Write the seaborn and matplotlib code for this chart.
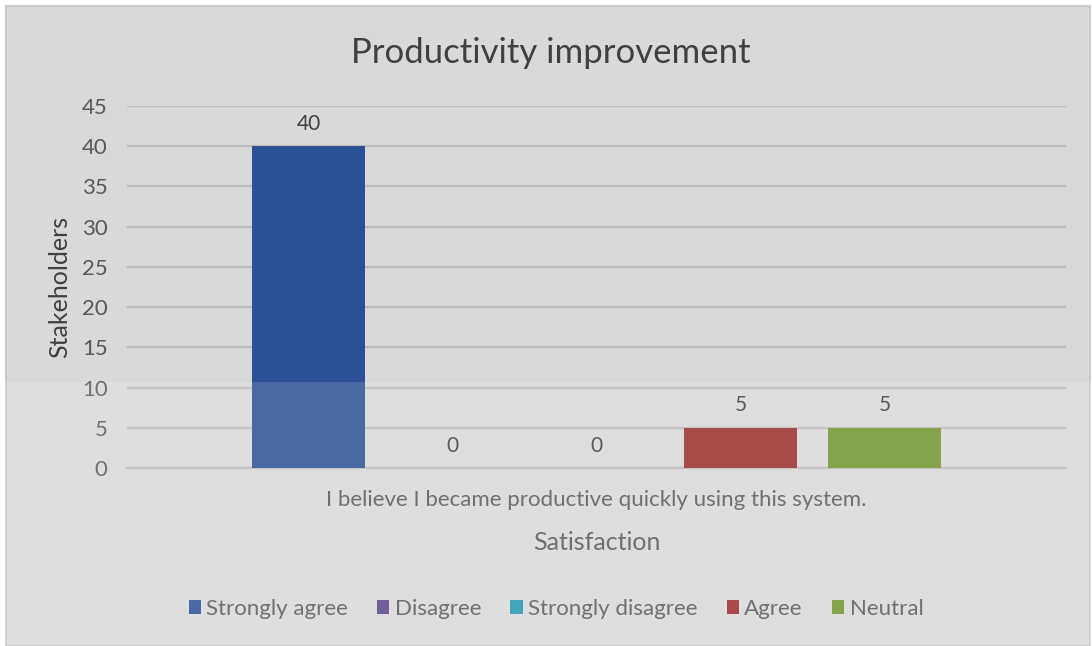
import matplotlib
matplotlib.use("Agg")
import matplotlib.pyplot as plt
import matplotlib.patches as mpatches
import seaborn as sns
import pandas as pd

# Survey responses for one statement
question = "I believe I became productive quickly using this system."
responses = ["Strongly agree", "Disagree", "Strongly disagree", "Agree", "Neutral"]
counts = [40, 0, 0, 5, 5]
colors = ["#2a5196", "#5a4589", "#2596b2", "#9c2e2a", "#72942d"]
yticks = [0, 5, 10, 15, 20, 25, 30, 35, 40, 45]

df = pd.DataFrame({"Question": [question] * len(responses),
                   "Response": responses,
                   "Count": counts})

sns.set_theme(style="white")
plt.rcParams["font.family"] = ["Lato", "DejaVu Sans"]
text_color = "#595959"
dark_text = "#404040"
grid_color = "#bcbcbc"
bg = "#d9d9d9"

W, H = 1092, 646
fig = plt.figure(figsize=(W / 100, H / 100), dpi=100, facecolor="white")

# Chart panel with a thin frame
panel = mpatches.Rectangle((6 / W, 0), (1084 / W), (640 / H), transform=fig.transFigure,
                           facecolor=bg, edgecolor="#c4c4c4", linewidth=1.2, zorder=-10)
fig.patches.append(panel)

ax = fig.add_axes([127 / W, (H - 468) / H, 939 / W, 362 / H])
ax.set_facecolor("none")

sns.barplot(data=df, x="Question", y="Count", hue="Response", hue_order=responses,
            palette=colors, width=0.767, gap=0.21, saturation=1, ax=ax,
            legend=True, zorder=3, linewidth=0, edgecolor="none")

ax.set_ylim(0, 45)
ax.set_xlim(-0.5, 0.5)
ax.set_yticks(yticks)
ax.yaxis.grid(True, color=grid_color, linewidth=1.6, zorder=0)
ax.set_axisbelow(True)
for s in ["top", "right", "left"]:
    ax.spines[s].set_visible(False)
ax.spines["bottom"].set_color(grid_color)
ax.spines["bottom"].set_linewidth(1.6)
ax.tick_params(axis="both", length=0, colors=text_color)
ax.tick_params(axis="y", pad=14, labelsize=16)
ax.tick_params(axis="x", pad=16, labelsize=16)

for cont in ax.containers:
    ax.bar_label(cont, labels=[f"{v:.0f}" for v in cont.datavalues],
                 padding=9, fontsize=15, color=dark_text)

fig.text(551 / W, 1 - 53 / H, "Productivity improvement", fontsize=25,
         color=dark_text, ha="center", va="center")
ax.set_ylabel("Stakeholders", fontsize=18, color=dark_text, labelpad=8)
ax.set_xlabel("Satisfaction", fontsize=18, color=text_color, labelpad=15)

handles, labels = ax.get_legend_handles_labels()
ax.legend(handles, labels, loc="center", bbox_to_anchor=((556 - 127) / 939, -(609 - 468) / 362),
          ncol=5, frameon=False, fontsize=16, labelcolor=text_color,
          handlelength=0.55, handleheight=0.55, handletextpad=0.25, columnspacing=1.3)

# Lighter band across the lower part of the sheet
band = mpatches.Rectangle((0, 0), 1, (H - 382) / H, transform=fig.transFigure,
                          facecolor="white", alpha=0.14, edgecolor="none", zorder=10)
fig.patches.append(band)

fig.savefig("out.png", dpi=100, facecolor=fig.get_facecolor())
